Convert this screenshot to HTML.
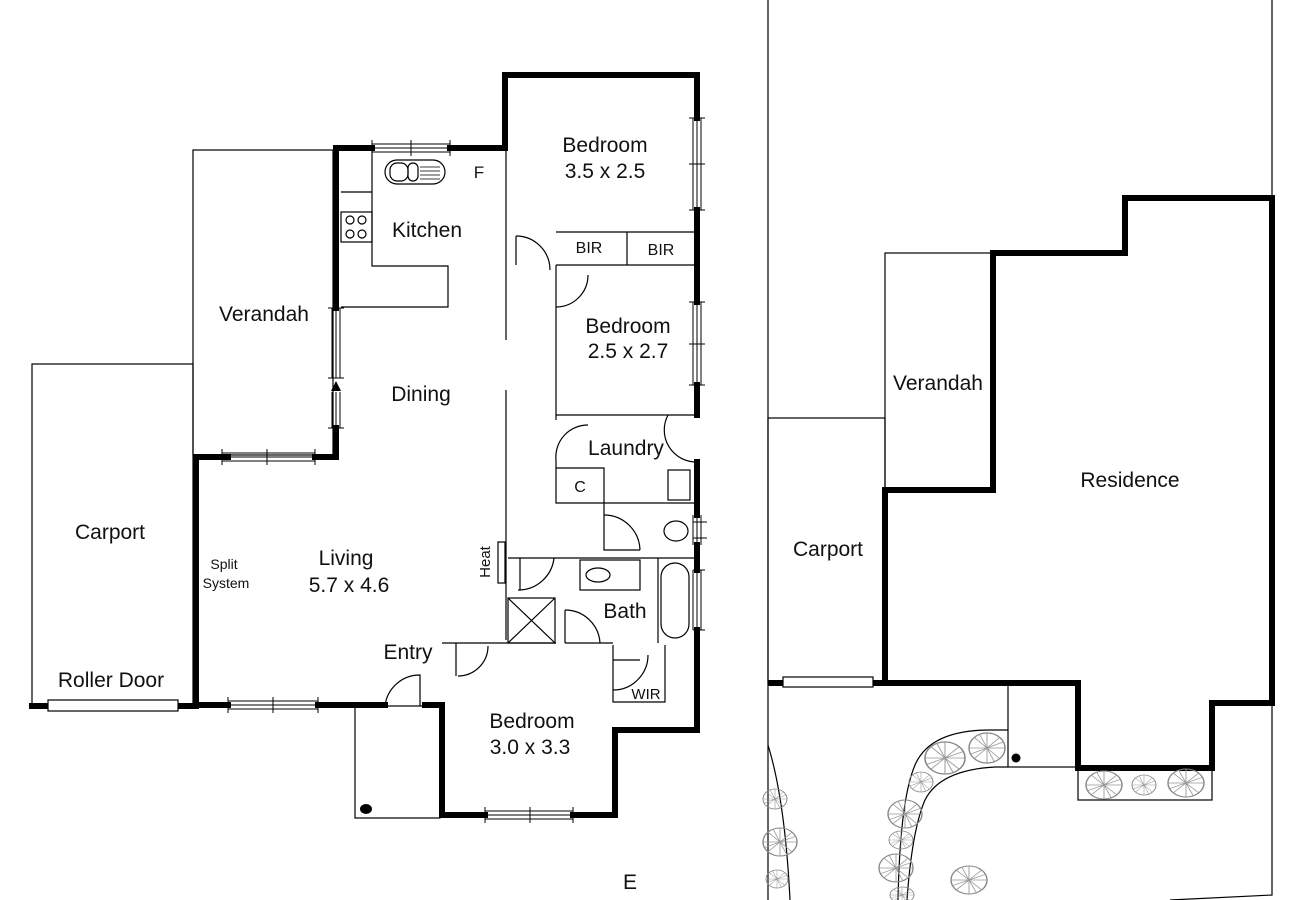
<!DOCTYPE html>
<html><head><meta charset="utf-8"><style>
html,body{margin:0;padding:0;background:#fff;}
svg{display:block;}
text{font-family:"Liberation Sans",Arial,sans-serif;fill:#111;}
</style></head><body>
<svg width="1300" height="900" viewBox="0 0 1300 900" xmlns="http://www.w3.org/2000/svg">
<defs>
<g id="tree">
<circle r="1" fill="none" stroke="#888" stroke-width="0.08"/>
<path d="M0 0L1 0M0 0L-1 0M0 0L0 1M0 0L0 -1M0 0L.7 .7M0 0L-.7 -.7M0 0L.7 -.7M0 0L-.7 .7M0 0L.4 .9M0 0L-.4 -.9M0 0L.9 -.4M0 0L-.9 .4" stroke="#999" stroke-width="0.05"/>
</g>
</defs>
<g fill="none" stroke="#000">
<g stroke-width="1.2">
<rect x="32" y="364" width="161" height="342"/>
<rect x="193" y="150" width="140" height="305"/>
<rect x="355" y="706" width="85" height="112"/>
<path d="M341 192H372V148M372 192V266H448V307H341"/>
<rect x="341" y="212" width="31" height="30"/>
<path d="M506 150V340M506 390V640"/>
<path d="M556 232H697M556 265H697M627 232V265"/>
<path d="M516 236V265M556 265V415H697"/>
<path d="M556 415V420M556 460V503H697M556 468H604V503"/>
<path d="M604 503V550H640"/>
<path d="M508 558H697M658 558V643M520 558V590"/>
<rect x="580" y="560" width="60" height="30"/>
<rect x="661" y="563" width="28" height="75" rx="14"/>
<rect x="508" y="598" width="47" height="45"/>
<path d="M508 598L555 643M555 598L508 643"/>
<path d="M442 643H556M565 643H613M565 643V610"/>
<rect x="668" y="470" width="22" height="30"/>
<path d="M613 645V702H665V645"/>
<path d="M613 660H640"/>
<rect x="498" y="542" width="7" height="41"/>
<path d="M516 236A34 34 0 0 1 550 270"/>
<path d="M556 307A32 32 0 0 0 588 275"/>
<path d="M556 460A32 32 0 0 1 588 425"/>
<path d="M668 415A32 32 0 0 0 697 462"/>
<path d="M604 515A36 36 0 0 1 640 550"/>
<path d="M518 590A36 36 0 0 0 554 558"/>
<path d="M565 610A35 35 0 0 1 600 643"/>
<path d="M613 690A35 35 0 0 0 648 655"/>
<path d="M458 676A30 30 0 0 0 488 646"/>
<path d="M385 706A35 35 0 0 1 420 675V706"/>
<path d="M456 643V676"/>
<rect x="385" y="160" width="60" height="24" rx="12"/>
<rect x="390" y="163" width="18" height="18" rx="7"/>
<rect x="408" y="163" width="10" height="18" rx="5"/>
<path d="M420 167H440M420 171H440M420 175H440M420 179H440" stroke-width="0.8"/>
<ellipse cx="598" cy="575" rx="12" ry="7"/>
<ellipse cx="676" cy="531" rx="12" ry="10"/>
<circle cx="350" cy="220" r="4"/><circle cx="362" cy="220" r="4"/><circle cx="350" cy="234" r="4"/><circle cx="362" cy="234" r="4"/>
</g>
<g stroke-width="6" stroke-linecap="square">
<path d="M336 148V308M336 428V457H315M228 457H196V705H228"/>
<path d="M318 705H385M425 705H442V815H485M573 815H615V730H697V630"/>
<path d="M697 570V545M697 515V462M697 415V385M697 302V210M697 118V75H505V148H450M372 148H336"/>
<path d="M32 706H48M178 706H196"/>
</g>
<g stroke-width="1">
<path d="M372 144H450M372 148H450M372 152H450M372 140V156M411 140V156M450 140V156"/>
<path d="M693 118V210M697 118V210M701 118V210M689 118H705M689 164H705M689 210H705"/>
<path d="M693 302V385M697 302V385M701 302V385M689 302H705M689 344H705M689 385H705"/>
<path d="M332 308V378M336 308V378M340 308V378M328 308H344M328 378H344"/>
<path d="M332 392V428M336 392V428M340 392V428M328 428H344"/>
<path d="M222 453H315M222 457H315M222 461H315M222 449V465M267 449V465M315 449V465"/>
<path d="M228 701H318M228 705H318M228 709H318M228 697V713M273 697V713M318 697V713"/>
<path d="M485 811H573M485 815H573M485 819H573M485 807V823M530 807V823M573 807V823"/>
<path d="M693 570V630M697 570V630M701 570V630M693 570H705M693 630H705"/>
<path d="M693 515V545M697 515V545M701 515V545M693 522H707M693 538H707"/>
</g>
<rect x="48" y="700" width="130" height="11" stroke-width="1.2" fill="#fff"/>
<g stroke-width="1.2">
<path d="M768 0V683M768 683V900"/>
<path d="M1272 0V198M1272 703V895L1170 900"/>
<rect x="768" y="418" width="117" height="265"/>
<rect x="885" y="253" width="108" height="237"/>
<rect x="1008" y="683" width="70" height="84"/>
<rect x="1078" y="768" width="134" height="32"/>
<path d="M768 745Q785 800 790 900"/>
<path d="M1008 730H990Q930 730 915 765Q900 800 898 900"/>
<path d="M1008 767H995Q940 770 925 800Q912 830 907 900"/>
</g>
<path d="M885 683V490H993V253H1125V198H1272V703H1212V768H1078V683Z" stroke-width="6"/>
<path d="M768 683H885" stroke-width="6"/>
<rect x="783" y="677" width="90" height="10" stroke-width="1.2" fill="#fff"/>
</g>
<path d="M336 381l-5 10h10z" fill="#000"/>
<ellipse cx="366" cy="809" rx="6" ry="5" fill="#000"/>
<circle cx="1016" cy="758" r="4.5" fill="#000"/>
<g>
<use href="#tree" transform="translate(945,758) scale(20,16)"/>
<use href="#tree" transform="translate(987,748) scale(18,15)"/>
<use href="#tree" transform="translate(921,782) scale(12,10)"/>
<use href="#tree" transform="translate(905,814) scale(17,14)"/>
<use href="#tree" transform="translate(901,840) scale(12,9)"/>
<use href="#tree" transform="translate(896,868) scale(17,14)"/>
<use href="#tree" transform="translate(902,895) scale(12,8)"/>
<use href="#tree" transform="translate(969,880) scale(18,14)"/>
<use href="#tree" transform="translate(775,799) scale(12,10)"/>
<use href="#tree" transform="translate(780,842) scale(17,14)"/>
<use href="#tree" transform="translate(777,879) scale(11,9)"/>
<use href="#tree" transform="translate(1104,785) scale(18,14)"/>
<use href="#tree" transform="translate(1144,785) scale(12,10)"/>
<use href="#tree" transform="translate(1186,783) scale(18,14)"/>
</g>
<g font-size="21" text-anchor="middle">
<text x="605" y="152">Bedroom</text>
<text x="605" y="178">3.5 x 2.5</text>
<text x="427" y="237">Kitchen</text>
<text x="264" y="321">Verandah</text>
<text x="421" y="401">Dining</text>
<text x="628" y="333">Bedroom</text>
<text x="628" y="358">2.5 x 2.7</text>
<text x="626" y="455">Laundry</text>
<text x="110" y="539">Carport</text>
<text x="346" y="565">Living</text>
<text x="349" y="592">5.7 x 4.6</text>
<text x="408" y="659">Entry</text>
<text x="625" y="618">Bath</text>
<text x="532" y="728">Bedroom</text>
<text x="530" y="754">3.0 x 3.3</text>
<text x="111" y="687">Roller Door</text>
<text x="630" y="889">E</text>
<text x="938" y="390">Verandah</text>
<text x="1130" y="487">Residence</text>
<text x="828" y="556">Carport</text>
<text x="479" y="178" font-size="17">F</text>
</g>
<g font-size="16" text-anchor="middle">
<text x="589" y="253">BIR</text>
<text x="661" y="255">BIR</text>
<text x="580" y="492">C</text>
<text x="646" y="699" font-size="15">WIR</text>
<text x="224" y="569" font-size="14">Split</text>
<text x="226" y="588" font-size="14">System</text>
<text transform="translate(490,562) rotate(-90)" font-size="15">Heat</text>
</g>
</svg>
</body></html>
